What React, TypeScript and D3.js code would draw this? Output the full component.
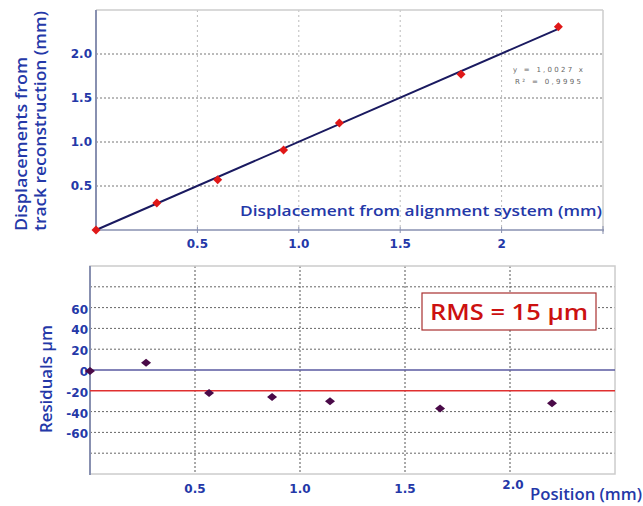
import React from "react";
import * as d3 from "d3";

const topX = [0, 0.3, 0.6, 0.925, 1.2, 1.8, 2.28];
const topY = [0, 0.307, 0.57, 0.91, 1.215, 1.77, 2.31];
const slope = 1.0027;
const topTicks = [0.5, 1.0, 1.5, 2.0];
const topXLabels = ["0.5", "1.0", "1.5", "2"];
const topYLabels = ["0.5", "1.0", "1.5", "2.0"];

const resX = [0, 0.267, 0.567, 0.867, 1.143, 1.667, 2.2];
const resY = [-1, 7, -22, -26, -30, -37, -32];
const resGrid = [-80, -60, -40, 20, 40, 60, 80];
const resYTicks = [-60, -40, -20, 0, 20, 40, 60];
const resXTicks = [0.5, 1.0, 1.5, 2.0];
const resXLabels = ["0.5", "1.0", "1.5", "2.0"];
const meanLine = -20;
const zeroLine = 0;

const BLUE = "#2438a8";
const FONT = "'DejaVu Sans', sans-serif";
const TFONT = "'Open Sans', 'DejaVu Sans', sans-serif";

function diamond(cx: number, cy: number, w: number, h: number) {
  return `M${cx},${cy - h / 2}L${cx + w / 2},${cy}L${cx},${cy + h / 2}L${cx - w / 2},${cy}Z`;
}

export default function App() {
  const x1 = d3.scaleLinear().domain([0, 2.5]).range([96, 603]);
  const y1 = d3.scaleLinear().domain([0, 2.5]).range([230, 10]);
  const x2 = d3.scaleLinear().domain([0, 2.5]).range([90, 615]);
  const y2 = d3.scaleLinear().domain([-100, 100]).range([474, 266]);

  const fit = d3.line<number>().x((d) => x1(d)).y((d) => y1(d * slope));

  return (
    <svg width={643} height={506} style={{ position: "absolute", left: 0, top: 0, background: "#fff" }} fontFamily={FONT}>
      {/* ---------- TOP PANEL ---------- */}
      {topTicks.map((t) => (
        <line key={"tv" + t} x1={x1(t)} x2={x1(t)} y1={10} y2={230} stroke="#bbb" strokeDasharray="2,3" />
      ))}
      {topTicks.map((t) => (
        <line key={"th" + t} x1={96} x2={603} y1={y1(t)} y2={y1(t)} stroke="#777" strokeDasharray="2,2" />
      ))}
      <line x1={96} x2={603} y1={10} y2={10} stroke="#ccc" strokeWidth={1.5} />
      <line x1={603} x2={603} y1={10} y2={232} stroke="#ccc" strokeWidth={1.5} />
      <line x1={96} x2={604} y1={230} y2={230} stroke="#8890b0" strokeWidth={1.5} />
      <line x1={96} x2={96} y1={10} y2={231} stroke="#8890b0" strokeWidth={2} />
      {topTicks.map((t) => (
        <line key={"tt" + t} x1={x1(t)} x2={x1(t)} y1={227} y2={233} stroke="#8890b0" />
      ))}
      <line x1={603} x2={603} y1={226} y2={234} stroke="#8890b0" />
      {topTicks.map((t, i) => (
        <text key={"tyl" + i} x={92} y={y1(t) + 4} textAnchor="end" fontSize={12} fontWeight="bold" fill={BLUE}>
          {topYLabels[i]}
        </text>
      ))}
      {topTicks.map((t, i) => (
        <text key={"txl" + i} x={x1(t)} y={248} textAnchor="middle" fontSize={12} fontWeight="bold" fill={BLUE}>
          {topXLabels[i]}
        </text>
      ))}
      <path d={fit([0, topX[topX.length - 1]]) || ""} stroke="#1a1a60" strokeWidth={2} fill="none" />
      {topX.map((v, i) => (
        <path key={"tp" + i} d={diamond(x1(v), y1(topY[i]), 9, 9)} fill="#e01818" />
      ))}
      <text x={548} y={72} textAnchor="middle" fontSize={7} fill="#666" textLength={70} lengthAdjust="spacing">
        y = 1,0027 x
      </text>
      <text x={548} y={84} textAnchor="middle" fontSize={7} fill="#666" textLength={66} lengthAdjust="spacing">
        R² = 0,9995
      </text>
      <g fontFamily={TFONT} fontWeight={600}>
        <text x={240} y={216} fontSize={15} fill={BLUE} textLength={362} lengthAdjust="spacingAndGlyphs">
          Displacement from alignment system (mm)
        </text>
        <text transform="translate(27,231) rotate(-90)" fontSize={16} fill={BLUE} textLength={174} lengthAdjust="spacingAndGlyphs">
          Displacements from
        </text>
        <text transform="translate(46,231) rotate(-90)" fontSize={16} fill={BLUE} textLength={220} lengthAdjust="spacingAndGlyphs">
          track reconstruction (mm)
        </text>
        <text x={530} y={500} fontSize={16} fill={BLUE} textLength={112} lengthAdjust="spacingAndGlyphs">
          Position (mm)
        </text>
        <text transform="translate(52,433) rotate(-90)" fontSize={16} fill={BLUE} textLength={108} lengthAdjust="spacingAndGlyphs">
          Residuals μm
        </text>
      </g>

      {/* ---------- BOTTOM PANEL ---------- */}
      {resXTicks.map((t) => (
        <line key={"bv" + t} x1={x2(t)} x2={x2(t)} y1={266} y2={474} stroke="#555" strokeDasharray="2,2" />
      ))}
      {resGrid.map((t) => (
        <line key={"bh" + t} x1={90} x2={615} y1={y2(t)} y2={y2(t)} stroke="#666" strokeDasharray="2,2" />
      ))}
      <rect x={90} y={266} width={525} height={208} fill="none" stroke="#ccc" strokeWidth={1.5} />
      <line x1={90} x2={90} y1={266} y2={475} stroke="#8890b0" strokeWidth={2} />
      <line x1={90} x2={615} y1={y2(zeroLine)} y2={y2(zeroLine)} stroke="#5a5aa0" strokeWidth={1.5} />
      <line x1={90} x2={615} y1={y2(meanLine)} y2={y2(meanLine)} stroke="#e03030" strokeWidth={1.5} />
      {resYTicks.map((t) => (
        <text key={"byl" + t} x={88} y={y2(t) + 6} textAnchor="end" fontSize={12} fontWeight="bold" fill={BLUE}>
          {t}
        </text>
      ))}
      {resXTicks.map((t, i) => (
        <text key={"bxl" + i} x={x2(t) + (i === 3 ? 3 : 0)} y={i === 3 ? 489 : 493} textAnchor="middle" fontSize={12} fontWeight="bold" fill={BLUE}>
          {resXLabels[i]}
        </text>
      ))}
      {resX.map((v, i) => (
        <path key={"bp" + i} d={diamond(x2(v), y2(resY[i]), 10, 8)} fill="#4a0a48" />
      ))}
      <rect x={422} y={293} width={174} height={37} fill="#fff" stroke="#a83030" strokeWidth={1.2} />
      <text x={509} y={320} textAnchor="middle" fontSize={21} fontWeight={600} fontFamily={TFONT} fill="#cc1010" textLength={158} lengthAdjust="spacingAndGlyphs">
        RMS = 15 μm
      </text>
    </svg>
  );
}
